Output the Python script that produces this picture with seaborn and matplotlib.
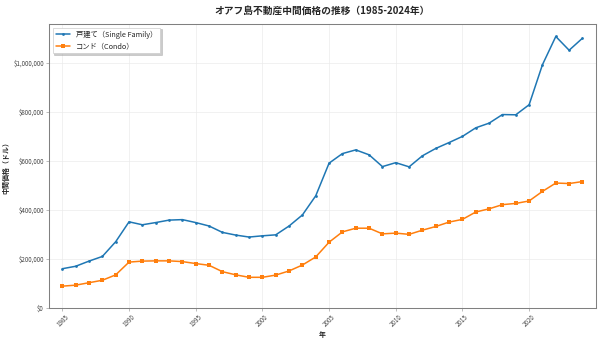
import matplotlib
matplotlib.use("Agg")
import matplotlib.pyplot as plt
import matplotlib.ticker as mticker
import seaborn as sns
import pandas as pd

years = list(range(1985, 2025))
single_family = [160000, 170000, 191000, 210000, 270000, 351000, 339000, 348000, 358000, 360000,
                 348000, 334000, 308000, 297000, 289000, 294000, 298000, 334000, 379000, 457000,
                 590000, 629000, 644000, 624000, 576000, 592000, 575000, 620000, 650000, 674000,
                 699000, 734000, 753000, 788000, 787000, 828000, 991000, 1106000, 1050000, 1099000]
condo = [89000, 93000, 103000, 113000, 135000, 187000, 191000, 192000, 192000, 189000,
         181000, 174000, 148000, 135000, 125000, 125000, 134000, 151000, 175000, 208000,
         268000, 310000, 325000, 325000, 302000, 305000, 300000, 317000, 332000, 350000,
         361000, 391000, 404000, 421000, 426000, 436000, 475000, 509000, 507000, 515000]
label_sf = "戸建て（Single Family）"
label_condo = "コンド（Condo）"
xticks = [1985, 1990, 1995, 2000, 2005, 2010, 2015, 2020]

df = pd.DataFrame({"year": years, "sf": single_family, "condo": condo})

sns.set_theme(style="whitegrid")
plt.rcParams['font.family'] = ['Noto Sans CJK JP', 'DejaVu Sans']

fig = plt.figure(figsize=(12, 6.82), dpi=50)
ax = fig.add_axes([0.0817, 0.0968, 0.9113, 0.8328])

sns.lineplot(data=df, x="year", y="sf", ax=ax, color="#1f77b4", marker="o",
             markersize=4, linewidth=2.2, markeredgewidth=0, label=label_sf)
sns.lineplot(data=df, x="year", y="condo", ax=ax, color="#ff7f0e", marker="s",
             markersize=4.5, linewidth=2.2, markeredgewidth=0, label=label_condo)

ax.set_xlim(1984.0, 2025.0)
ax.set_ylim(bottom=0)
ax.yaxis.set_major_formatter(mticker.FuncFormatter(lambda v, p: f"${v:,.0f}"))
ax.set_xticks(xticks)
ax.tick_params(axis='x', labelrotation=45, labelsize=9, length=4, width=0.8)
ax.tick_params(axis='y', labelsize=9, length=4, width=0.8)
ax.tick_params(axis='both', which='both', bottom=True, left=True, color="#888888", labelcolor="#444444")

ax.grid(True, color="#ebebeb", linewidth=1)
for s in ax.spines.values():
    s.set_color("#808080")
    s.set_linewidth(1.5)

ax.set_title("オアフ島不動産中間価格の推移（1985-2024年）", fontsize=14, fontweight="bold", pad=14)
ax.set_xlabel("年", fontsize=10, fontweight="bold")
ax.set_ylabel("中間価格（ドル）", fontsize=10, fontweight="bold", labelpad=6)

leg = ax.legend(loc="upper left", fontsize=10.5, shadow={'color': '#999999'}, frameon=True, fancybox=False)
leg.get_frame().set_edgecolor("#cccccc")

fig.savefig("out.png", dpi=50)
